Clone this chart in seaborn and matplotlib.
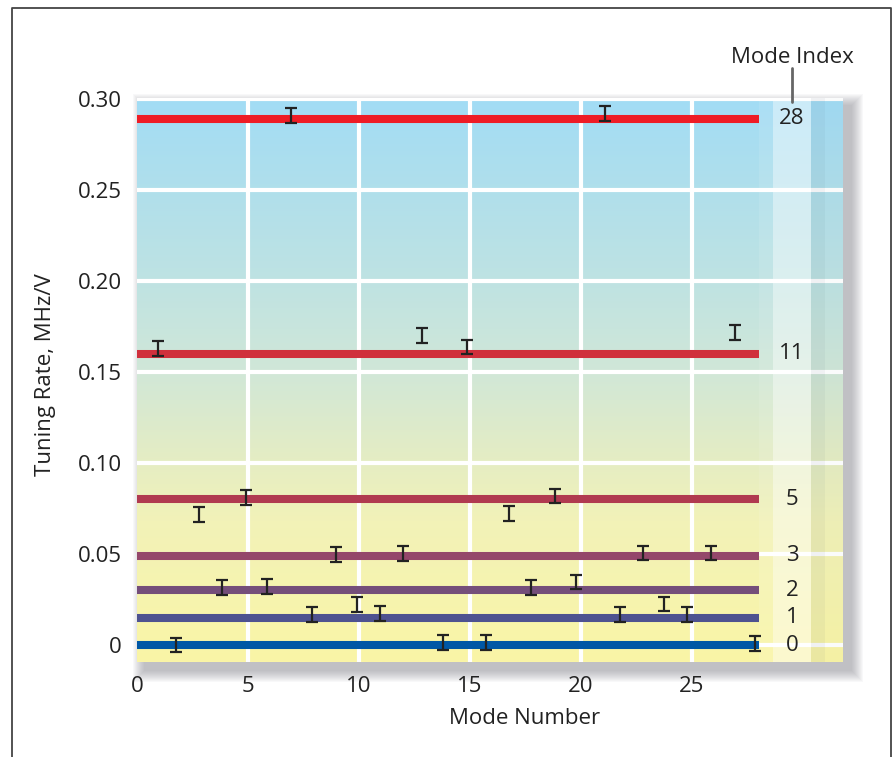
import numpy as np
import pandas as pd
import matplotlib
matplotlib.use("Agg")
import matplotlib.pyplot as plt
from matplotlib.patches import Rectangle
from matplotlib.lines import Line2D
from matplotlib.colors import LinearSegmentedColormap
import seaborn as sns

# ---------------- data ----------------
mode_index = [0, 1, 2, 3, 5, 11, 28]
index_rate = [0.0, 0.015, 0.030, 0.049, 0.080, 0.160, 0.289]
index_colors = ["#0057A5", "#4E5290", "#744E7A", "#94476A", "#B03A50", "#D0303C", "#EE1C25"]

mode_number = [0.95, 1.76, 2.8, 3.85, 4.9, 5.87, 6.94, 7.86, 8.96, 9.9,
               10.95, 11.97, 12.84, 13.77, 14.86, 15.7, 16.76, 17.75, 18.83, 19.76,
               21.1, 21.76, 22.8, 23.74, 24.77, 25.84, 26.95, 27.84]
measured_rate = [0.163, 0.000, 0.0718, 0.0317, 0.081, 0.0322, 0.291, 0.0169, 0.0496, 0.0224,
                 0.0174, 0.0504, 0.170, 0.0015, 0.1637, 0.0015, 0.0724, 0.0316, 0.0819, 0.0346,
                 0.292, 0.0168, 0.0505, 0.0225, 0.0168, 0.0505, 0.1717, 0.001]
rate_error = [0.004] * len(mode_number)

x_ticks = [0, 5, 10, 15, 20, 25]
y_ticks = [0, 0.05, 0.10, 0.15, 0.20, 0.25, 0.30]
y_tick_labels = ["0", "0.05", "0.10", "0.15", "0.20", "0.25", "0.30"]

# ---------------- style ----------------
sns.set_theme(style="white")
plt.rcParams["font.family"] = ["Open Sans", "DejaVu Sans"]
TXT = "#222222"
FS = 16

W, H = 894, 757
fig = plt.figure(figsize=(W / 100, H / 100), dpi=100)
x0, x1, yb, yt = 137, 843, 662, 98
ax = fig.add_axes([x0 / W, 1 - yb / H, (x1 - x0) / W, (yb - yt) / H])

XMAX = 31.8
YMIN, YMAX = -0.0093, 0.3005
ax.set_xlim(0, XMAX)
ax.set_ylim(YMIN, YMAX)

# gradient background
grad = LinearSegmentedColormap.from_list(
    "bg",
    [(0.0, "#FAF5A6"), (0.25, "#F2F2B8"), (0.38, "#E2ECC6"), (0.52, "#D0E7D8"),
     (0.70, "#BCE2E4"), (0.85, "#AFDFEC"), (1.0, "#A2DCF5")])
g = np.linspace(0, 1, 256).reshape(-1, 1)
ax.imshow(g, cmap=grad, origin="lower", aspect="auto",
          extent=[0, XMAX, YMIN, YMAX], zorder=0)

# label column shading
ax.axvspan(28.0, 28.65, color="white", alpha=0.10, lw=0, zorder=0.6)
ax.axvspan(28.65, 30.36, color="white", alpha=0.45, lw=0, zorder=0.6)
ax.axvspan(30.36, 31.0, color="#405868", alpha=0.08, lw=0, zorder=0.6)
ax.axvspan(31.0, XMAX, color="#405868", alpha=0.025, lw=0, zorder=0.6)

# white grid
for xt in x_ticks[1:]:
    ax.axvline(xt, color="white", lw=3.0, zorder=0.5)
for yv in y_ticks:
    ax.axhline(yv, color="white", lw=3.0, zorder=0.5)

# horizontal mode-index lines via seaborn
rows = []
for m, r in zip(mode_index, index_rate):
    rows.append({"x": 0.0, "rate": r, "mode": str(m)})
    rows.append({"x": 28.0, "rate": r, "mode": str(m)})
df_lines = pd.DataFrame(rows)
pal = {str(m): c for m, c in zip(mode_index, index_colors)}
sns.lineplot(data=df_lines, x="x", y="rate", hue="mode", palette=pal,
             lw=5.8, legend=False, ax=ax, zorder=2, solid_capstyle="butt")

# error bars
ax.errorbar(mode_number, measured_rate, yerr=rate_error, fmt="none",
            ecolor="#222222", elinewidth=1.6, capsize=4.3, capthick=1.6, zorder=3)

# labels on the right
for m, r in zip(mode_index, index_rate):
    ax.text(29.5, r, str(m), ha="center", va="center", fontsize=FS, color=TXT, zorder=4)
ax.text(29.5, 0.3225, "Mode Index", ha="center", va="center", fontsize=FS,
        color=TXT, clip_on=False)
ax.plot([29.5, 29.5], [0.3168, 0.2985], color="#666666", lw=2, clip_on=False, zorder=4)

# ticks / labels
ax.set_xticks(x_ticks)
ax.set_xticklabels([str(t) for t in x_ticks])
ax.set_yticks(y_ticks)
ax.set_yticklabels(y_tick_labels)
ax.tick_params(axis="both", length=0, labelsize=FS, colors=TXT)
ax.tick_params(axis="y", pad=11)
ax.tick_params(axis="x", pad=10)
ax.set_xlabel("Mode Number", fontsize=FS, color=TXT)
ax.set_ylabel("Tuning Rate, MHz/V", fontsize=FS, color=TXT)
ax.xaxis.set_label_coords((525 - x0) / (x1 - x0), (yb - 708) / (yb - yt))
ax.yaxis.set_label_coords((56 - x0) / (x1 - x0), (yb - 375) / (yb - yt))
for s in ax.spines.values():
    s.set_visible(False)

# drop shadow behind the plot area (figure pixel coords)
off = 8
n = 12
blur = 12
for i in range(n):
    r = blur * (1 - i / n)
    rect = Rectangle(((x0 + off - r) / W, (H - yb - off - r) / H),
                     (x1 - x0 + 2 * r) / W, (yb - yt + 2 * r) / H,
                     transform=fig.transFigure, facecolor="#70707a",
                     edgecolor="none", alpha=0.045, zorder=-5)
    fig.patches.append(rect)

# outer frame (left, top, right)
fx0, fx1, fy0 = 12, 891, 8
frame = Line2D([fx0 / W, fx0 / W, fx1 / W, fx1 / W],
               [0, 1 - fy0 / H, 1 - fy0 / H, 0],
               transform=fig.transFigure, color="#444444", lw=1.3)
fig.lines.append(frame)

fig.savefig("out.png", dpi=100)
